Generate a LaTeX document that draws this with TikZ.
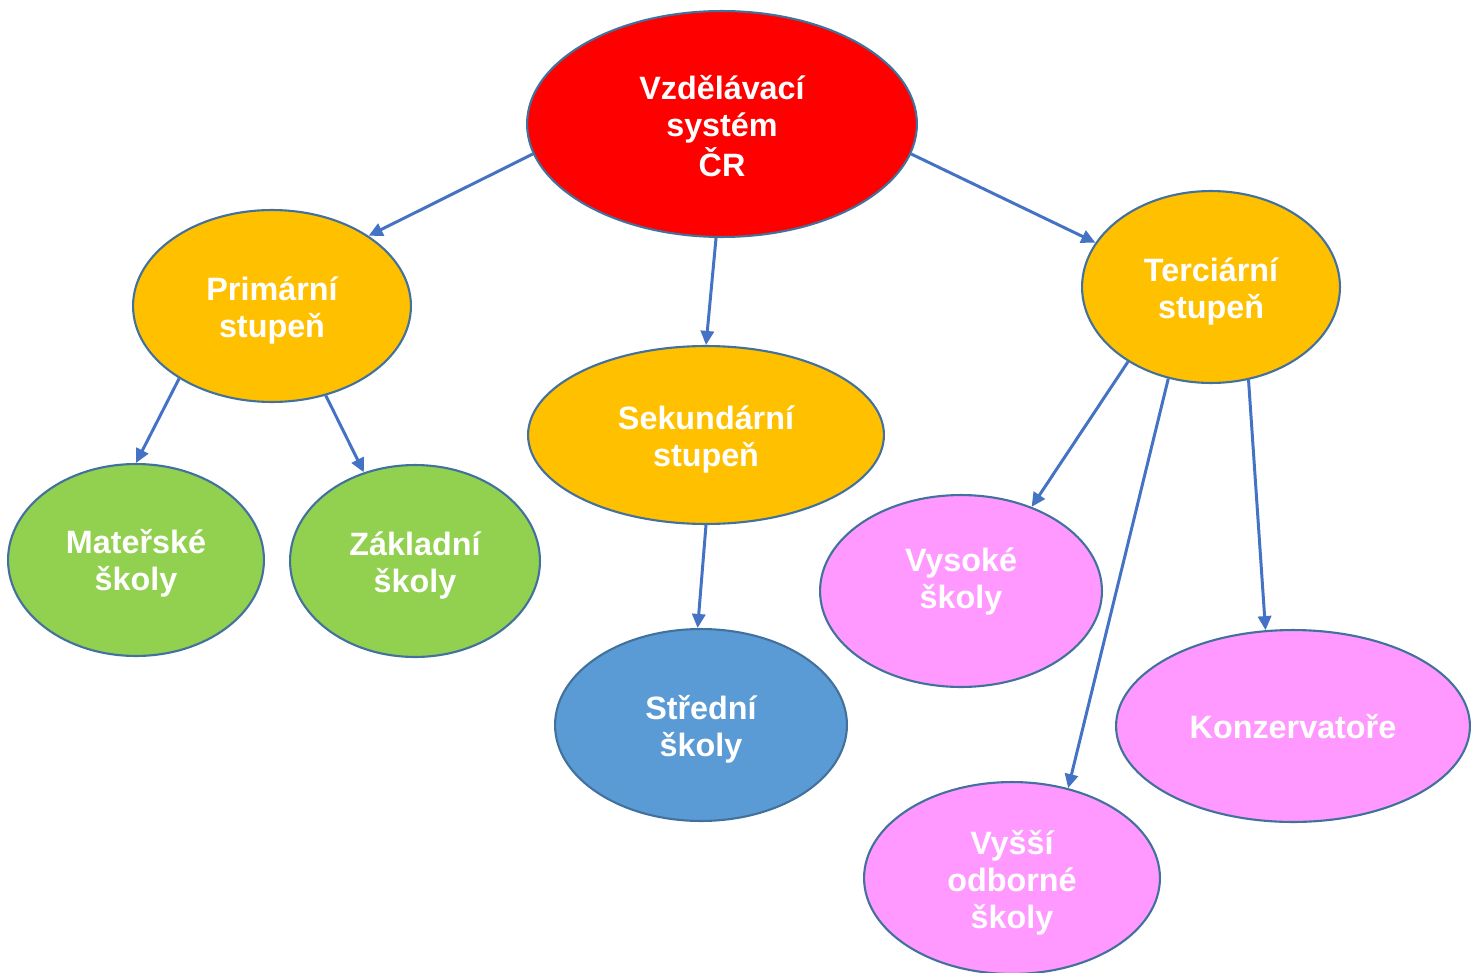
\documentclass[tikz,border=0pt]{standalone}
\usepackage{fontspec}
\setmainfont{Liberation Sans}
\usetikzlibrary{shapes.geometric,arrows.meta}
\definecolor{edgeblue}{HTML}{41719C}
\definecolor{arrowblue}{HTML}{4472C4}
\definecolor{topred}{HTML}{FF0000}
\definecolor{levelorange}{HTML}{FFC000}
\definecolor{schoolgreen}{HTML}{92D050}
\definecolor{schoolblue}{HTML}{5B9BD5}
\definecolor{schoolpink}{HTML}{FF99FF}
\newlength\ovalpx
\setlength\ovalpx{0.02cm}
% centred lines of an oval's text, moved down by #1 pixels without changing the box size
\newcommand\ovaltext[2]{\raisebox{-#1\ovalpx}[\height][\depth]{\begin{tabular}{@{}c@{}}#2\end{tabular}}}
\begin{document}
\begin{tikzpicture}[x=0.02cm,y=-0.02cm,
  oval/.style 2 args={ellipse, draw=edgeblue, line width=1.2pt, inner sep=0pt,
    minimum width=#1*0.04cm, minimum height=#2*0.04cm,
    text=white, font=\fontsize{18.4}{20.9}\selectfont\bfseries},
  link/.style={draw=arrowblue, line width=1.7pt,
    -{Triangle[length=8pt,width=7.5pt]}}]
\useasboundingbox (0,0) rectangle (1480,973);
\node[oval={195}{113}, fill=topred] (cr) at (722,124) {\ovaltext{7}{Vzdělávací\\systém\\ČR}};
\node[oval={139}{96}, fill=levelorange] (prim) at (272,306) {\ovaltext{6}{Primární\\stupeň}};
\node[oval={178}{89}, fill=levelorange] (sek) at (706,435) {\ovaltext{6}{Sekundární\\stupeň}};
\node[oval={129}{96}, fill=levelorange] (terc) at (1211,287) {\ovaltext{6}{Terciární\\stupeň}};
\node[oval={128}{96}, fill=schoolgreen] (mat) at (136,560) {\ovaltext{5}{Mateřské\\školy}};
\node[oval={125}{96}, fill=schoolgreen] (zak) at (415,561) {\ovaltext{6}{Základní\\školy}};
\node[oval={146}{96}, fill=schoolblue] (str) at (701,725) {\ovaltext{6}{Střední\\školy}};
\node[oval={141}{96}, fill=schoolpink] (vys) at (961,591) {\ovaltext{-8}{Vysoké\\školy}};
\node[oval={177}{96}, fill=schoolpink] (kon) at (1293,726) {\ovaltext{5}{Konzervatoře}};
\node[oval={148}{96}, fill=schoolpink] (vos) at (1012,878) {\ovaltext{6}{Vyšší\\odborné\\školy}};
\draw[link] (cr.189) -- (prim.36.5);
\draw[link] (cr.-9) -- (terc.159);
\draw[link] (cr.267) -- (sek.90);
\draw[link] (prim.218.7) -- (mat.90);
\draw[link] (prim.-59.8) -- (zak.120.8);
\draw[link] (sek.270) -- (str.92.4);
\draw[link] (terc.222) -- (vys.50);
\draw[link] (terc.245.7) -- (vos.58.5);
\draw[link] (terc.292.7) -- (kon.106.4);
\end{tikzpicture}
\end{document}
